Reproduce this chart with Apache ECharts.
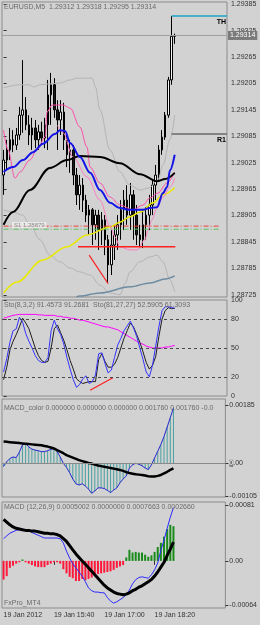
<!DOCTYPE html>
<html><head><meta charset="utf-8">
<script src="https://cdn.jsdelivr.net/npm/echarts@6/dist/echarts.min.js"></script>
<style>html,body{margin:0;padding:0;background:#d2d2d2;}#c{width:260px;height:625px;}</style>
</head><body><div id="c"></div>
<script>
const mainTitle = 'EURUSD,M5  1.29312 1.29318 1.29295 1.29314';
const stochTitle = 'Sto(8,3,2) 91.4573 91.2681  Sto(81,27,27) 52.5905 61.3093';
const macdColorTitle = 'MACD_color 0.000000 0.000000 0.000000 0.001760 0.001760 -0.0';
const macdTitle = 'MACD (12,26,9) 0.0005002 0.0000000 0.0007663 0.0002660';
const brandText = 'FxPro_MT4';
const pivotText = 'S1 1.28879';

const categories = ['14:20','14:25','14:30','14:35','14:40','14:45','14:50','14:55',
'15:00','15:05','15:10','15:15','15:20','15:25','15:30','15:35','15:40','15:45','15:50','15:55',
'16:00','16:05','16:10','16:15','16:20','16:25','16:30','16:35','16:40','16:45','16:50','16:55',
'17:00','17:05','17:10','17:15','17:20','17:25','17:30','17:35','17:40','17:45','17:50','17:55',
'18:00','18:05','18:10','18:15','18:20','18:25','18:30','18:35','18:40','18:45','18:50','18:55',
'19:00','19:05','19:10','19:15','19:20','19:25','19:30','19:35','19:40','19:45','19:50','19:55',
'20:00','20:05','20:10'];
const tickIndex = [0,16,32,48];
const tickLabels = ['19 Jan 2012','19 Jan 15:40','19 Jan 17:00','19 Jan 18:20'];

const mainTicks = [1.28725,1.28785,1.28845,1.28905,1.28965,1.29025,1.29085,1.29145,1.29205,1.29265,1.29325,1.29385];
const stochTicks = [0,20,50,80,100];
const stochLevels = [20,50,80];
const macdColorTicks = [-0.00105,0,0.00185];
const macdTicks = [-0.00064,0,0.00081];

const opens = [1.28997,1.29031,1.29054,1.29077,1.29065,1.29088,1.29133,1.29145,1.29111,1.29088,1.29104,1.29077,1.29095,1.29081,1.29111,1.29179,1.29202,1.29145,1.29122,1.29140,1.29077,1.29043,1.29054,1.28997,1.28952,1.28974,1.28940,1.28906,1.28918,1.28884,1.28906,1.28872,1.28895,1.28850,1.28793,1.28838,1.28861,1.28884,1.28918,1.28940,1.28906,1.28952,1.28906,1.28861,1.28850,1.28884,1.28906,1.28929,1.28974,1.28997,1.29054,1.29083,1.29133,1.29213,1.29312];
const closes = [1.29031,1.29054,1.29077,1.29065,1.29088,1.29133,1.29145,1.29111,1.29088,1.29104,1.29077,1.29095,1.29081,1.29111,1.29179,1.29202,1.29145,1.29122,1.29140,1.29077,1.29043,1.29054,1.28997,1.28952,1.28974,1.28940,1.28906,1.28918,1.28884,1.28906,1.28872,1.28895,1.28850,1.28793,1.28838,1.28861,1.28884,1.28918,1.28940,1.28906,1.28952,1.28906,1.28861,1.28850,1.28884,1.28906,1.28929,1.28974,1.28997,1.29054,1.29083,1.29133,1.29213,1.29312,1.29314];
const lows = [1.28952,1.29008,1.29031,1.29049,1.29054,1.29077,1.29093,1.29099,1.29065,1.29054,1.29058,1.29054,1.29065,1.29058,1.29054,1.29111,1.29127,1.29054,1.29088,1.29054,1.29015,1.29002,1.28974,1.28929,1.28918,1.28913,1.28890,1.28861,1.28838,1.28850,1.28827,1.28838,1.28815,1.28752,1.28770,1.28804,1.28827,1.28850,1.28872,1.28884,1.28872,1.28850,1.28838,1.28831,1.28831,1.28850,1.28872,1.28906,1.28940,1.28986,1.29043,1.29077,1.29127,1.29202,1.29295];
const highs = [1.29054,1.29077,1.29104,1.29099,1.29104,1.29152,1.29258,1.29174,1.29133,1.29127,1.29122,1.29111,1.29118,1.29127,1.29213,1.29229,1.29217,1.29167,1.29167,1.29161,1.29088,1.29077,1.29065,1.29013,1.28997,1.28990,1.28952,1.28929,1.28922,1.28918,1.28918,1.28913,1.28906,1.28861,1.28872,1.28884,1.28906,1.28940,1.28963,1.28974,1.28979,1.28963,1.28929,1.28884,1.28918,1.28924,1.28952,1.28986,1.29020,1.29065,1.29099,1.29140,1.29220,1.29358,1.29318];

const grayUpperPts = [[0,1.29195],[5,1.29202],[8,1.29202],[9.5,1.29197],[11.5,1.29202],[14.6,1.29204],[17.8,1.29206],[21,1.29213],[23,1.29217],[28,1.29217],[29,1.29197],[30.4,1.29145],[33.6,1.29054],[36.7,1.29004],[39.9,1.28974],[43,1.28963],[46,1.28968],[48.7,1.28986],[50.3,1.29020],[52.5,1.29077],[54,1.29133]];
const grayLowerPts = [[0,1.28918],[3,1.28913],[6,1.28906],[8.3,1.28884],[11.5,1.28850],[14.6,1.28815],[17.8,1.28800],[21,1.28786],[24,1.28777],[27.3,1.28770],[30.4,1.28747],[33.6,1.28729],[36.7,1.28725],[38.3,1.28750],[39.9,1.28777],[43,1.28800],[46.2,1.28811],[48.4,1.28815],[50.3,1.28800],[52.5,1.28759],[54,1.28731]];
const steelMaPts = [[23,1.28720],[24,1.28722],[30.4,1.28729],[39.9,1.28743],[46.2,1.28752],[51,1.28761],[54,1.28768]];
const yellowMaPts = [[0,1.28729],[4.2,1.28754],[12.4,1.28804],[20,1.28834],[26.3,1.28861],[33.6,1.28879],[36.7,1.28890],[39.9,1.28902],[43.1,1.28913],[47.2,1.28934],[50.3,1.28952],[54,1.28968]];
const blackMaPts = [[0,1.28884],[3,1.28913],[8.3,1.28963],[14.6,1.29013],[20,1.29031],[24.1,1.29040],[30.4,1.29038],[36.7,1.29024],[43.1,1.28999],[48.4,1.28983],[51,1.28988],[54,1.29002]];
const blueMaPts = [[0,1.29004],[3,1.29015],[6.1,1.29031],[9.3,1.29049],[12.4,1.29068],[16.2,1.29090],[17.8,1.29099],[19.4,1.29097],[21,1.29070],[24.1,1.29038],[27.3,1.29002],[30.4,1.28963],[33.6,1.28934],[36.7,1.28922],[39.9,1.28918],[44,1.28918],[46.2,1.28922],[48.4,1.28924],[50.3,1.28956],[51.6,1.28970],[52.5,1.29008],[54,1.29043]];
const pinkAPts = [[0,1.29099],[1.4,1.29054],[3.6,1.28990],[5.2,1.29004],[8.3,1.29031],[10.5,1.29054],[13.1,1.29083],[13.7,1.29140],[15.3,1.29156],[18.8,1.29156],[21,1.29149],[24.1,1.29106],[26.3,1.29061],[27.3,1.29015],[30.4,1.28979],[33.6,1.28947],[36.7,1.28929],[40.8,1.28918],[44,1.28929],[46.2,1.28945],[48.7,1.28956],[51.6,1.28979],[54,1.29004]];
const pinkBPts = [[17,1.29110],[18.8,1.29093],[21.9,1.29038],[26.3,1.28993],[30.4,1.28940],[33.6,1.28881],[35.2,1.28856],[36.7,1.28834],[39.9,1.28827],[42.1,1.28827],[44.6,1.28850],[45.6,1.28872],[46.8,1.28895],[48.4,1.28922],[50.3,1.28947],[52.5,1.28970],[54,1.28990]];

const lastPrice = 1.29314;
const thLevel = 1.29358, thStart = 53;
const r1Level = 1.29090, r1Start = 53;
const pivotRedLevel = 1.28881, pivotGreenLevel = 1.28874, pivotFrom = 0, pivotTo = 68;
const supportLevel = 1.28834, supportFrom = 23.5, supportTo = 54.2;
const priceDivPts = [[27,1.28815],[33,1.28750]];
const stochDivPts = [[27.3,6],[34.5,19]];
const firstBar = -0.5, lastBar = 70.5;

const stochK = [25,39,56,68,70,82,77,65,57,50,42,37,35,35,40,68,79,70,64,54,40,28,17,9,12,18,21,13,15,22,44,45,34,24,27,40,53,60,68,73,78,71,62,50,38,25,20,32,52,72,89,93,93,92,91.5];
const stochD = [17,30,48,57,64,72,81,76,70,60,50,42,37,35,36,50,70,74,66,58,48,37,28,18,15,13,14,15,15,15,38,44,36,30,30,33,40,50,60,68,76,72,64,56,46,35,28,32,41,62,80,89,92,91,91.3];
const stochSlow = [81,82,83,84,84.5,85,85,85,85,85,85,84.5,84.5,84,84,84,84,83,83,82,82,81,81,80,79,79,78,77,76,75,74,73,72,72,71,70,69,67,65,63,61,59,57,55,54,52,51,50,50,50,50,51,51,52,52.6];

const macdColorHist = [-0.00010,0.00005,0.00015,0.00020,0.00018,0.00035,0.00058,0.00062,0.00052,0.00045,0.00042,0.00040,0.00037,0.00037,0.00040,0.00044,0.00047,0.00038,0.00020,0.00000,-0.00013,-0.00030,-0.00050,-0.00065,-0.00069,-0.00065,-0.00072,-0.00082,-0.00095,-0.00088,-0.00078,-0.00078,-0.00080,-0.00086,-0.00093,-0.00085,-0.00078,-0.00062,-0.00050,-0.00040,-0.00015,-0.00005,0.00000,-0.00003,-0.00008,-0.00015,-0.00020,-0.00005,0.00017,0.00038,0.00060,0.00085,0.00115,0.00145,0.00176];
const macdColorSignal = [0.00069,0.00068,0.00067,0.00066,0.00065,0.00064,0.00063,0.00062,0.00061,0.00060,0.00059,0.00058,0.00057,0.00055,0.00053,0.00050,0.00047,0.00042,0.00037,0.00032,0.00026,0.00022,0.00018,0.00014,0.00010,0.00007,0.00004,0.00001,-0.00001,-0.00004,-0.00007,-0.00009,-0.00011,-0.00013,-0.00015,-0.00017,-0.00019,-0.00021,-0.00024,-0.00028,-0.00031,-0.00033,-0.00035,-0.00036,-0.00037,-0.00039,-0.00041,-0.00042,-0.00042,-0.00040,-0.00037,-0.00032,-0.00027,-0.00021,-0.00016];

const macdLine = [0.00032,0.00036,0.00040,0.00042,0.00044,0.00045,0.00045,0.00044,0.00043,0.00041,0.00039,0.00037,0.00035,0.00033,0.00033,0.00033,0.00033,0.00033,0.00032,0.00026,0.00014,0.00004,-0.00004,-0.00010,-0.00016,-0.00022,-0.00030,-0.00039,-0.00043,-0.00045,-0.00045,-0.00046,-0.00046,-0.00053,-0.00058,-0.00061,-0.00059,-0.00056,-0.00053,-0.00049,-0.00042,-0.00033,-0.00027,-0.00024,-0.00023,-0.00024,-0.00025,-0.00020,-0.00013,-0.00003,0.00015,0.00030,0.00047,0.00063,0.00077];
const macdSignal = [0.00060,0.00056,0.00052,0.00049,0.00047,0.00046,0.00045,0.00044,0.00044,0.00043,0.00043,0.00042,0.00041,0.00040,0.00040,0.00039,0.00039,0.00038,0.00036,0.00032,0.00028,0.00022,0.00016,0.00010,0.00005,0.00000,-0.00005,-0.00010,-0.00015,-0.00020,-0.00025,-0.00030,-0.00035,-0.00039,-0.00042,-0.00045,-0.00047,-0.00048,-0.00049,-0.00048,-0.00046,-0.00043,-0.00041,-0.00038,-0.00036,-0.00033,-0.00030,-0.00027,-0.00022,-0.00016,-0.00009,-0.00002,0.00008,0.00017,0.00027];
const macdHist = [-0.00027,-0.00022,-0.00010,-0.00007,-0.00004,-0.00002,0.00002,-0.00002,-0.00004,-0.00006,-0.00008,-0.00009,-0.00009,-0.00009,-0.00006,-0.00004,-0.00002,-0.00002,-0.00004,-0.00012,-0.00018,-0.00023,-0.00025,-0.00029,-0.00029,-0.00026,-0.00028,-0.00026,-0.00024,-0.00021,-0.00019,-0.00018,-0.00017,-0.00016,-0.00015,-0.00013,-0.00010,-0.00008,-0.00006,0.00005,0.00016,0.00012,0.00013,0.00012,0.00012,0.00009,0.00006,0.00008,0.00013,0.00020,0.00026,0.00035,0.00046,0.00052,0.00050];

const candleData = opens.map((o, i) => [o, closes[i], lows[i], highs[i]]);

const FONT = '"Liberation Sans", Arial, sans-serif';
const TXT = '#333333';
const TITLE = '#6a6a6a';

function grid(top, height) {
  return {left: 2, top, width: 225, height, show: true, borderColor: '#8c8c8c', borderWidth: 1, backgroundColor: 'transparent'};
}
function catAxis(g, bottom) {
  return {
    type: 'category', gridIndex: g, data: categories, boundaryGap: true,
    axisLine: {show: false}, splitLine: {show: false},
    axisTick: bottom ? {show: true, alignWithLabel: true, interval: (i) => tickIndex.includes(i), length: 4, lineStyle: {color: TXT}} : {show: false},
    axisLabel: bottom ? {show: true, interval: (i) => tickIndex.includes(i), formatter: (v, i) => tickLabels[tickIndex.indexOf(i)], align: 'left', fontSize: 7, color: TXT, margin: 4, fontFamily: FONT} : {show: false}
  };
}
function valAxis(g, min, max, ticks, fmt, rich) {
  return {
    type: 'value', gridIndex: g, position: 'right', min, max, scale: true,
    splitLine: {show: false}, axisLine: {show: false},
    axisTick: {show: true, customValues: ticks, length: 3, lineStyle: {color: TXT}},
    axisLabel: {show: true, customValues: ticks, formatter: fmt, fontSize: 7, color: TXT, margin: 4, fontFamily: FONT, rich: rich || {}}
  };
}
function line(data, color, width, xi, yi, extra) {
  return Object.assign({type: 'line', data, xAxisIndex: xi, yAxisIndex: yi, symbol: 'none', showSymbol: false, silent: true,
    lineStyle: {color, width}, animation: false}, extra || {});
}
const sm = {smooth: 0.35, smoothMonotone: 'x'};

const option = {
  animation: false,
  backgroundColor: '#d2d2d2',
  textStyle: {fontFamily: FONT},
  title: [
    {text: mainTitle, left: 4, top: 4, padding: 0, textStyle: {fontSize: 7, color: TITLE, fontWeight: 'normal', fontFamily: FONT}},
    {text: stochTitle, left: 4, top: 302, padding: 0, textStyle: {fontSize: 7, color: TITLE, fontWeight: 'normal', fontFamily: FONT}},
    {text: macdColorTitle, left: 4, top: 405, padding: 0, textStyle: {fontSize: 7, color: TITLE, fontWeight: 'normal', fontFamily: FONT}},
    {text: macdTitle, left: 4, top: 504, padding: 0, textStyle: {fontSize: 7, color: TITLE, fontWeight: 'normal', fontFamily: FONT}},
    {text: brandText, left: 4, top: 600, padding: 0, textStyle: {fontSize: 7, color: TITLE, fontWeight: 'normal', fontFamily: FONT}}
  ],
  grid: [grid(2, 295), grid(300, 96), grid(399, 98), grid(502, 106)],
  xAxis: [
    catAxis(0, false), catAxis(1, false), catAxis(2, false), catAxis(3, true),
    {type: 'value', gridIndex: 0, min: -0.5, max: 70.5, show: false},
    {type: 'value', gridIndex: 1, min: -0.5, max: 70.5, show: false}
  ],
  yAxis: [
    valAxis(0, 1.28720, 1.29390, mainTicks, (v) => v.toFixed(5)),
    valAxis(1, 0, 100, stochTicks, (v) => String(v)),
    valAxis(2, -0.00107, 0.00204, macdColorTicks, (v) => (Math.abs(v) < 1e-9 ? '{b|0}.00' : v.toFixed(5)), {b: {backgroundColor: '#7a7a7a', color: '#ffffff', fontSize: 7}}),
    valAxis(3, -0.00068, 0.00085, macdTicks, (v) => (Math.abs(v) < 1e-9 ? '0.00' : v.toFixed(5)))
  ],
  graphic: [
    {type: 'text', left: 12, top: 222, silent: true, z: 10,
     style: {text: pivotText, font: '6px "Liberation Sans", Arial', fill: '#8a8a8a', backgroundColor: 'rgba(240,240,240,0.75)', padding: [0, 2]}}
  ],
  series: [
    // main panel
    line(grayUpperPts, '#b4b4b4', 1, 4, 0, sm),
    line(grayLowerPts, '#b4b4b4', 1, 4, 0, sm),
    line(steelMaPts, '#6e8ca2', 1.5, 4, 0, sm),
    line(yellowMaPts, '#e8e800', 1.5, 4, 0, sm),
    line(pinkAPts, '#ff4fa8', 1, 4, 0, sm),
    line(pinkBPts, '#ff7ec0', 1, 4, 0, sm),
    line([[pivotFrom, pivotRedLevel], [pivotTo, pivotRedLevel]], '#e8403a', 1, 4, 0, {lineStyle: {color: '#e8403a', width: 1, type: [5, 2, 1, 2]}}),
    line([[pivotFrom, pivotGreenLevel], [pivotTo, pivotGreenLevel]], '#5cc05c', 1, 4, 0, {lineStyle: {color: '#5cc05c', width: 1, type: [5, 2, 1, 2]}}),
    line([[firstBar, lastPrice], [lastBar, lastPrice]], '#a0a0a0', 1, 4, 0, {
      endLabel: {show: true, formatter: lastPrice.toFixed(5), distance: 1, backgroundColor: '#7a7a7a', color: '#ffffff', fontSize: 7, padding: [1, 2, 1, 2], fontFamily: FONT}
    }),
    {
      type: 'candlestick', xAxisIndex: 0, yAxisIndex: 0, data: candleData, barWidth: 2, silent: true,
      itemStyle: {color: '#f4f4f4', color0: '#1a1a1a', borderColor: '#000000', borderColor0: '#000000', borderWidth: 1}
    },
    line(blackMaPts, '#000000', 2, 4, 0, sm),
    line(blueMaPts, '#1414e6', 2, 4, 0, sm),
    line([[supportFrom, supportLevel], [supportTo, supportLevel]], '#ff2020', 1.5, 4, 0),
    line(priceDivPts, '#ff2020', 1.2, 4, 0),
    line([[thStart, thLevel], [lastBar, thLevel]], '#1aa6c4', 1.5, 4, 0, {
      endLabel: {show: true, formatter: 'TH', align: 'right', verticalAlign: 'top', distance: 0, offset: [-1, 2], fontSize: 7, fontWeight: 'bold', color: '#000000', fontFamily: FONT}
    }),
    line([[r1Start, r1Level], [lastBar, r1Level]], '#6a6a6a', 1.5, 4, 0, {
      endLabel: {show: true, formatter: 'R1', align: 'right', verticalAlign: 'top', distance: 0, offset: [-1, 2], fontSize: 7, fontWeight: 'bold', color: '#000000', fontFamily: FONT}
    }),
    // stochastic
    line(stochSlow, '#ff00ff', 1, 1, 1),
    line(stochD, '#1e1e1e', 1, 1, 1),
    line(stochK, '#3333ff', 1, 1, 1, {
      markLine: {silent: true, symbol: 'none', animation: false, label: {show: false},
        lineStyle: {color: '#4a4a4a', width: 1, type: [3, 3]},
        data: stochLevels.map((v) => ({yAxis: v}))}
    }),
    line(stochDivPts, '#ff2020', 1.2, 5, 1),
    // MACD_color
    {type: 'bar', xAxisIndex: 2, yAxisIndex: 2, data: macdColorHist, barWidth: 1, silent: true, itemStyle: {color: '#4aa0a0'},
      markLine: {silent: true, symbol: 'none', animation: false, label: {show: false}, lineStyle: {color: '#8a8a8a', width: 1, type: 'solid'}, data: [{yAxis: 0}]}},
    line(macdColorHist, '#2626d0', 1, 2, 2),
    line(macdColorSignal, '#000000', 2.5, 2, 2),
    // MACD
    {type: 'bar', xAxisIndex: 3, yAxisIndex: 3, data: macdHist, barWidth: 2, silent: true,
      itemStyle: {color: (p) => (p.value >= 0 ? '#1a8a1a' : '#ff1a3c')}},
    line(macdLine, '#2a2aff', 1, 3, 3),
    line(macdSignal, '#000000', 3, 3, 3)
  ]
};

const chart = echarts.init(document.getElementById('c'), null, {renderer: 'canvas', width: 260, height: 625});
chart.setOption(option);
</script>
</body></html>
